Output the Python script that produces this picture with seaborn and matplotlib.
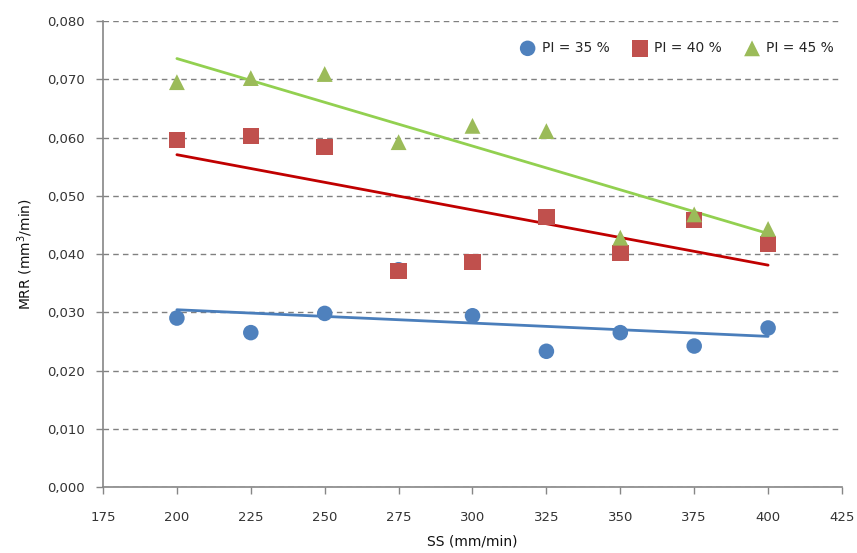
import numpy as np
import pandas as pd
import matplotlib
matplotlib.use("Agg")
import matplotlib.pyplot as plt
import seaborn as sns
from matplotlib.ticker import FuncFormatter, MultipleLocator

# Spindle speed values (mm/min)
ss = [200, 225, 250, 275, 300, 325, 350, 375, 400]

# Material removal rate (mm^3/min) per pulse interval
mrr_pi35 = [0.0290, 0.0265, 0.0298, 0.0373, 0.0294, 0.0233, 0.0265, 0.0242, 0.0273]
mrr_pi40 = [0.0596, 0.0603, 0.0584, 0.0371, 0.0386, 0.0464, 0.0402, 0.0458, 0.0417]
mrr_pi45 = [0.0695, 0.0702, 0.0709, 0.0592, 0.0620, 0.0611, 0.0428, 0.0468, 0.0443]

series_labels = ["PI = 35 %", "PI = 40 %", "PI = 45 %"]
marker_colors = ["#4F81BD", "#C0504D", "#9BBB59"]
trend_colors = ["#4A7EBB", "#C00000", "#92D050"]
markers = ["o", "s", "^"]
marker_sizes = [125, 140, 130]

df = pd.DataFrame({
    "SS": ss * 3,
    "MRR": mrr_pi35 + mrr_pi40 + mrr_pi45,
    "PI": sum([[lab] * len(ss) for lab in series_labels], []),
})

sns.set_style("white")
plt.rcParams["font.family"] = ["DejaVu Sans"]

fig = plt.figure(figsize=(8.57, 5.53), dpi=100)
ax = fig.add_axes([103 / 857, 1 - 487 / 553, (842 - 103) / 857, (487 - 21) / 553])

# horizontal dashed gridlines
ax.set_axisbelow(True)
ax.yaxis.grid(True, linestyle=(0, (4, 3)), color="#808080", linewidth=1.0)
ax.xaxis.grid(False)

# linear trend lines
for lab, col in zip(series_labels, trend_colors):
    sub = df[df["PI"] == lab]
    sns.regplot(data=sub, x="SS", y="MRR", ax=ax, ci=None, scatter=False,
                line_kws={"color": col, "linewidth": 2.0, "zorder": 2})

# data points
for lab, col, mk, sz in zip(series_labels, marker_colors, markers, marker_sizes):
    sub = df[df["PI"] == lab]
    sns.scatterplot(data=sub, x="SS", y="MRR", ax=ax, color=col, marker=mk,
                    s=sz, edgecolor="none", label=lab, zorder=3)

ax.set_xlim(175, 425)
ax.set_ylim(0, 0.08)
ax.xaxis.set_major_locator(MultipleLocator(25))
ax.yaxis.set_major_locator(MultipleLocator(0.01))
ax.yaxis.set_major_formatter(FuncFormatter(lambda v, p: f"{v:.3f}".replace(".", ",")))

for side in ["top", "right"]:
    ax.spines[side].set_visible(False)
for side in ["left", "bottom"]:
    ax.spines[side].set_color("#868686")
    ax.spines[side].set_linewidth(1.2)

ax.tick_params(axis="both", which="major", direction="out", length=5, width=1,
               color="#868686", labelsize=9.5, labelcolor="#333333", left=True, bottom=True)
ax.tick_params(axis="y", pad=8)
ax.tick_params(axis="x", pad=12)

ax.set_xlabel("SS (mm/min)", fontsize=10, labelpad=8, color="#111111")
ax.set_ylabel("MRR (mm$^3$/min)", fontsize=10, labelpad=9, color="#111111")

leg = ax.legend(loc="upper right", ncol=3, frameon=False, fontsize=10,
                bbox_to_anchor=(1.0, 0.975), handletextpad=0.0,
                columnspacing=1.2, borderaxespad=0.2)

fig.savefig("out.png", dpi=100)
